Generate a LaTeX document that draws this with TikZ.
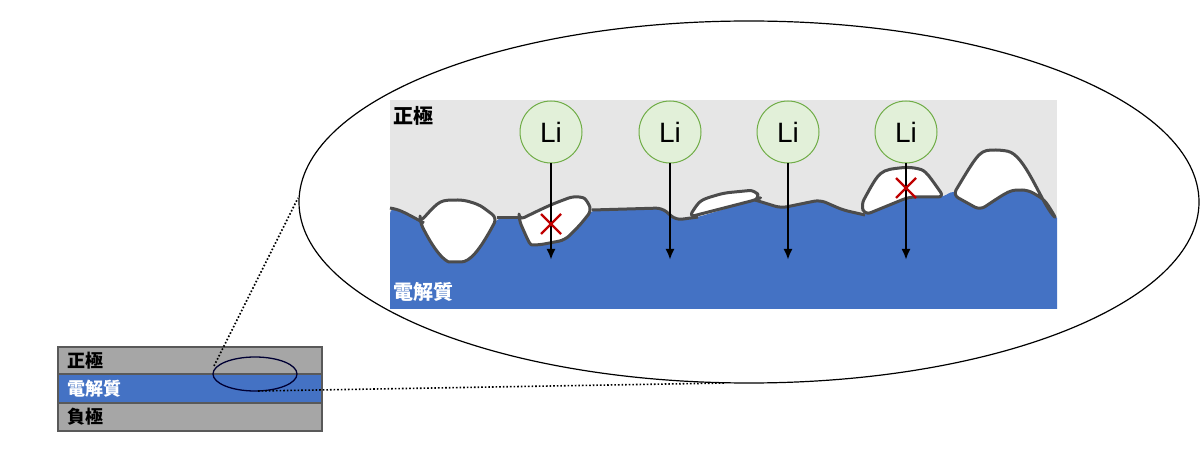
\documentclass[tikz,border=0pt]{standalone}
\usepackage{fontspec}
\setmainfont{Liberation Sans}
\newfontfamily\cjk{Noto Sans CJK JP}
\usetikzlibrary{arrows.meta}
\begin{document}
\begin{tikzpicture}[x=1pt,y=-1pt,
  line/.style={draw=black!70,line width=3pt,line join=round,rounded corners=6pt},
  li/.style={circle,minimum size=62pt,fill=lgreen,draw=dgreen,line width=1pt,font=\fontsize{28}{28}\selectfont,inner sep=0},
  arr/.style={-{Latex[length=11pt,width=9pt]},line width=2.2pt},
  xm/.style={draw=red!75!black,line width=2.2pt},
  lab/.style={font=\cjk\bfseries\fontsize{20}{20}\selectfont,anchor=west,inner sep=0},
  slab/.style={font=\cjk\bfseries\fontsize{18}{18}\selectfont,anchor=west,inner sep=0}]
\useasboundingbox (0,0) rectangle (1200,465);
\definecolor{bl}{HTML}{4472C4}
\definecolor{lg}{HTML}{E6E6E6}
\definecolor{lgreen}{HTML}{E2F0D9}
\definecolor{dgreen}{HTML}{70AD47}
% big ellipse
\draw[line width=1.2pt] (749,202) ellipse [x radius=450, y radius=181];
% panel
\fill[lg] (390,100) rectangle (1057,308);
\begin{scope}
\clip (390,100) rectangle (1057,308);
\fill[bl,rounded corners=6pt] (390,340) -- (390,208) .. controls (400,210) .. (424,223) .. controls (440,262) and (450,262) .. (455,262)
 .. controls (470,262) and (480,250) .. (497,218) -- (521,218) .. controls (530,245) .. (539,245) -- (565,240)
 .. controls (580,225) .. (592,210) -- (662,208) -- (676,220) -- (698,217) -- (755,200) -- (781,208) -- (820,200)
 -- (843,210) -- (865,215) -- (909,197) -- (944,197) -- (953,190) -- (980,210) .. controls (1010,190) .. (1028,190)
 .. controls (1045,200) .. (1057,220) -- (1070,220) -- (1070,340) -- cycle;
\end{scope}
% voids
\path[fill=white,line] (420,222) .. controls (440,200) .. (464,200) .. controls (480,205) .. (497,218)
 .. controls (480,250) and (470,262) .. (455,262) .. controls (450,262) and (440,262) .. cycle;
\path[fill=white,line] (519,220) .. controls (550,205) .. (574,196) .. controls (585,198) .. (592,210)
 .. controls (580,225) .. (565,240) -- (539,245) .. controls (530,245) .. cycle;
\path[fill=white,line] (689,217) .. controls (700,200) .. (724,193) -- (755,190) -- (760,198) -- (755,200) -- cycle;
\path[fill=white,line] (861,205) .. controls (880,170) .. (909,167) .. controls (925,170) .. (944,197) -- (909,197) -- (865,215) -- cycle;
\path[fill=white,line] (953,195) .. controls (980,150) .. (1002,150) .. controls (1025,155) and (1040,200) .. (1057,220)
 .. controls (1045,200) .. (1028,190) .. controls (1010,190) .. (980,210) -- cycle;
\draw[line] (390,208) .. controls (400,210) .. (424,223);
\draw[line] (592,210) -- (662,208) -- (676,220) -- (698,217);
\draw[line] (755,200) -- (781,208) -- (820,200) -- (843,210) -- (865,215);
\draw[line] (497,218) -- (521,218);
\node[lab] at (393,116) {正極};
\node[lab,text=white] at (393,292) {電解質};
% Li ions
\foreach \i/\x in {1/551,2/670,3/788,4/906}{
  \node[li] (li\i) at (\x,132) {Li};
  \coordinate (e\i) at (\x,260);
  \draw[arr] (li\i.south) -- (e\i);
}
\draw[xm] (541,214) -- (561,234) (541,234) -- (561,214);
\draw[xm] (896,178) -- (916,198) (896,198) -- (916,178);
% stack
\fill[black!35] (58,347) rectangle (322,374);
\fill[bl] (58,374) rectangle (322,403);
\fill[black!35] (58,403) rectangle (322,431);
\draw[black!65,line width=1.2pt] (58,347) rectangle (322,431) (58,374) -- (322,374) (58,403) -- (322,403);
\node[slab] at (67,361) {正極};
\node[slab,text=white] at (67,389) {電解質};
\node[slab] at (67,417) {負極};
\draw[line width=1.3pt,black!80!blue] (255,374) ellipse [x radius=42, y radius=17];
\draw[dotted,line width=1.6pt] (214,366) -- (298,198);
\draw[dotted,line width=1.6pt] (258,391) -- (725,383);
\end{tikzpicture}
\end{document}
